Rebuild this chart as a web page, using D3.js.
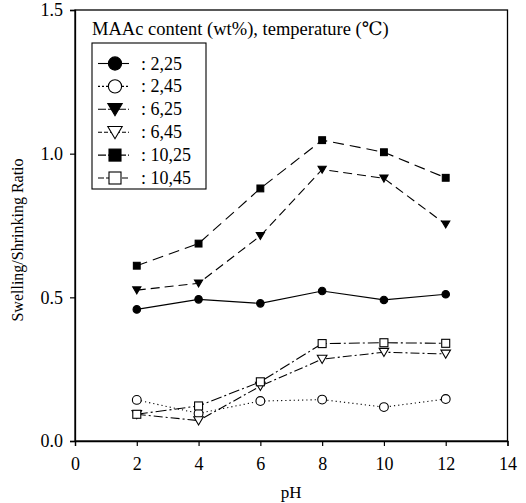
<!DOCTYPE html>
<html>
<head>
<meta charset="utf-8">
<script src="https://cdn.jsdelivr.net/npm/d3@7"></script>
<style>
  html, body { margin: 0; padding: 0; background: #fff; }
  svg { display: block; font-family: "Liberation Serif", "DejaVu Serif", serif; }
</style>
</head>
<body>
<svg id="chart" width="526" height="503"></svg>
<script>
// pH values at which swelling/shrinking ratios were measured
const pH = [2, 4, 6, 8, 10, 12];

// Series: MAAc content (wt%), temperature (°C)
const s_2_25  = [0.458, 0.493, 0.479, 0.522, 0.491, 0.511];
const s_2_45  = [0.143, 0.096, 0.139, 0.144, 0.118, 0.146];
const s_6_25  = [0.525, 0.549, 0.714, 0.945, 0.914, 0.754];
const s_6_45  = [0.093, 0.071, 0.191, 0.285, 0.309, 0.303];
const s_10_25 = [0.610, 0.687, 0.879, 1.047, 1.005, 0.916];
const s_10_45 = [0.093, 0.122, 0.206, 0.339, 0.342, 0.340];

const seriesLabels = [": 2,25", ": 2,45", ": 6,25", ": 6,45", ": 10,25", ": 10,45"];
const xTicks = [0, 2, 4, 6, 8, 10, 12, 14];
const yTicks = [0.0, 0.5, 1.0, 1.5];

const series = [
  { label: seriesLabels[0], values: s_2_25,  marker: "circle",   filled: true,  dash: null,        legendDash: null },
  { label: seriesLabels[1], values: s_2_45,  marker: "circle",   filled: false, dash: "1.2,3",     legendDash: "2,2" },
  { label: seriesLabels[2], values: s_6_25,  marker: "triangle", filled: true,  dash: "9,5",       legendDash: "8,2" },
  { label: seriesLabels[3], values: s_6_45,  marker: "triangle", filled: false, dash: "9,3,2,3",   legendDash: "4,2" },
  { label: seriesLabels[4], values: s_10_25, marker: "square",   filled: true,  dash: "11,6",      legendDash: "8,2" },
  { label: seriesLabels[5], values: s_10_45, marker: "square",   filled: false, dash: "11,3,2,3",  legendDash: "6,2" }
];

const svg = d3.select("#chart");
const plot = { left: 75, right: 507.5, top: 10, bottom: 441 };

const x = d3.scaleLinear().domain([0, 14]).range([plot.left, plot.right]);
const y = d3.scaleLinear().domain([0, 1.5]).range([plot.bottom, plot.top]);

// frame
svg.append("rect")
  .attr("x", plot.left).attr("y", plot.top)
  .attr("width", plot.right - plot.left).attr("height", plot.bottom - plot.top)
  .attr("fill", "none").attr("stroke", "#000").attr("stroke-width", 1.3);

// axes
const xAxis = svg.append("g")
  .attr("transform", `translate(0,${plot.bottom})`)
  .call(d3.axisBottom(x).tickValues(xTicks).tickSize(5).tickPadding(11).tickFormat(d3.format("d")));
const yAxis = svg.append("g")
  .attr("transform", `translate(${plot.left},0)`)
  .call(d3.axisLeft(y).tickValues(yTicks).tickSize(5).tickPadding(7).tickFormat(d3.format(".1f")));

[xAxis, yAxis].forEach(g => {
  g.select(".domain").attr("stroke", "#000").attr("stroke-width", 1.3);
  g.selectAll(".tick line").attr("stroke", "#000").attr("stroke-width", 1.2);
  g.selectAll(".tick text")
    .attr("fill", "#000")
    .style("font-family", '"Liberation Serif", serif')
    .style("font-size", "18px");
});

// axis titles
svg.append("text")
  .attr("x", (plot.left + plot.right) / 2).attr("y", 498)
  .attr("text-anchor", "middle")
  .style("font-size", "17px")
  .text("pH");

svg.append("text")
  .attr("transform", `translate(23,240) rotate(-90)`)
  .attr("text-anchor", "middle")
  .style("font-size", "16px")
  .text("Swelling/Shrinking Ratio");

// marker drawing
function drawMarker(g, kind, filled, cx, cy, size) {
  const fill = filled ? "#000" : "#fff";
  if (kind === "circle") {
    g.append("circle").attr("cx", cx).attr("cy", cy).attr("r", size * 0.55)
      .attr("fill", fill).attr("stroke", "#000").attr("stroke-width", 1.1);
  } else if (kind === "square") {
    const h = size * 0.5;
    g.append("rect").attr("x", cx - h).attr("y", cy - h).attr("width", 2 * h).attr("height", 2 * h)
      .attr("fill", fill).attr("stroke", "#000").attr("stroke-width", 1.1);
  } else {
    const h = size * 0.6;
    g.append("path")
      .attr("d", `M${cx - h},${cy - h * 0.8} L${cx + h},${cy - h * 0.8} L${cx},${cy + h * 0.9} Z`)
      .attr("fill", fill).attr("stroke", "#000").attr("stroke-width", 1.1);
  }
}

const line = d3.line().x((d, i) => x(pH[i])).y(d => y(d));

const marks = svg.append("g");
series.forEach(s => {
  marks.append("path")
    .datum(s.values)
    .attr("d", line)
    .attr("fill", "none")
    .attr("stroke", "#000")
    .attr("stroke-width", 1.1)
    .attr("stroke-dasharray", s.dash);
});
series.forEach(s => {
  s.values.forEach((v, i) => drawMarker(marks, s.marker, s.filled, x(pH[i]), y(v), s.filled ? 6.8 : 8));
});

// legend
svg.append("text")
  .attr("x", 92).attr("y", 35)
  .style("font-size", "18.5px")
  .text("MAAc content (wt%), temperature (\u2103)");

const legend = svg.append("g");
legend.append("rect")
  .attr("x", 92).attr("y", 43).attr("width", 114).attr("height", 146)
  .attr("fill", "#fff").attr("stroke", "#000").attr("stroke-width", 1.1);

series.forEach((s, i) => {
  const cy = 63.5 + i * 22.9;
  legend.append("line")
    .attr("x1", 98).attr("x2", 129).attr("y1", cy).attr("y2", cy)
    .attr("stroke", "#000").attr("stroke-width", 1.1)
    .attr("stroke-dasharray", s.legendDash);
  drawMarker(legend, s.marker, s.filled, 115, cy, 12);
  legend.append("text")
    .attr("x", 141).attr("y", cy + 6)
    .style("font-size", "18px")
    .text(s.label);
});
</script>
</body>
</html>
